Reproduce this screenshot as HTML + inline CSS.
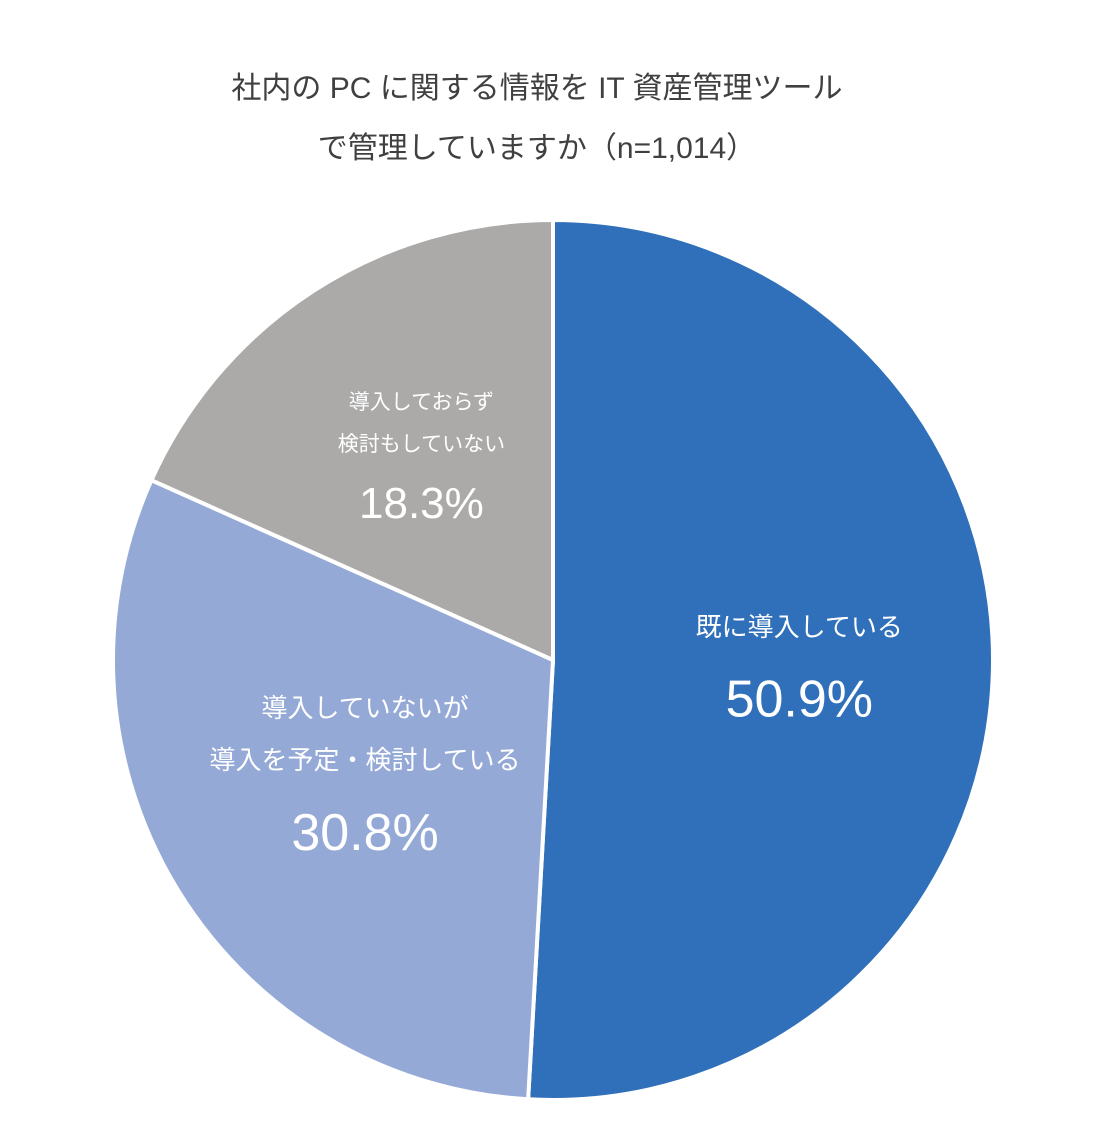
<!DOCTYPE html>
<html><head><meta charset="utf-8"><style>
html,body{margin:0;padding:0;background:#fff;}
body{width:1108px;height:1130px;overflow:hidden;font-family:"Liberation Sans","Noto Sans CJK JP",sans-serif;}
</style></head><body>
<svg id="chart" width="1108" height="1130" xmlns="http://www.w3.org/2000/svg">
<text x="537" y="98" text-anchor="middle" font-size="30" fill="#404040" font-family="Liberation Sans, Noto Sans CJK JP, sans-serif">社内の PC に関する情報を IT 資産管理ツール</text>
<text x="537" y="158" text-anchor="middle" font-size="30" fill="#404040" font-family="Liberation Sans, Noto Sans CJK JP, sans-serif">で管理していますか（n=1,014）</text>
<g id="slices"></g><g id="labels"></g>
</svg>
<script>
const categories = ["既に導入している", "導入していないが|導入を予定・検討している", "導入しておらず|検討もしていない"];
const values = [50.9, 30.8, 18.3];
const valueLabels = ["50.9%", "30.8%", "18.3%"];
const colors = ["#3070BA", "#95A9D7", "#ABAAA9"];
const cx = 553, cy = 660, r = 440;
const ns = "http://www.w3.org/2000/svg";
const total = values.reduce((a, b) => a + b, 0);
const sg = document.getElementById('slices'), lg = document.getElementById('labels');
function pt(a, rr) { return [cx + rr * Math.sin(a), cy - rr * Math.cos(a)]; }
const labelR = [0.56, 0.5, 0.55];
const catSize = [26, 26, 21], valSize = [52, 52, 44];
let acc = 0;
values.forEach((v, i) => {
  const a0 = acc / total * 2 * Math.PI; acc += v;
  const a1 = acc / total * 2 * Math.PI;
  const p0 = pt(a0, r), p1 = pt(a1, r);
  const large = (a1 - a0) > Math.PI ? 1 : 0;
  const path = document.createElementNS(ns, 'path');
  path.setAttribute('d', `M${cx},${cy} L${p0[0]},${p0[1]} A${r},${r} 0 ${large} 1 ${p1[0]},${p1[1]} Z`);
  path.setAttribute('fill', colors[i]);
  path.setAttribute('stroke', '#fff');
  path.setAttribute('stroke-width', '4');
  
  
  sg.appendChild(path);
  const mid = (a0 + a1) / 2;
  const c = pt(mid, r * labelR[i]);
  const lines = categories[i].split('|');
  const gap = catSize[i] * 2.0;
  const blockH = (lines.length - 1) * gap + valSize[i] * 1.6;
  let y = c[1] - blockH / 2 + catSize[i] * 0.4;
  lines.forEach((ln, j) => {
    const t = document.createElementNS(ns, 'text');
    t.setAttribute('x', c[0]); t.setAttribute('y', y);
    t.setAttribute('text-anchor', 'middle');
    t.setAttribute('font-size', catSize[i]);
    t.setAttribute('fill', '#fff');
    
    
    t.textContent = ln; lg.appendChild(t);
    y += gap;
  });
  y += valSize[i] * 0.85 - gap + catSize[i] * 1.4;
  const tv = document.createElementNS(ns, 'text');
  tv.setAttribute('x', c[0]); tv.setAttribute('y', y);
  tv.setAttribute('text-anchor', 'middle');
  tv.setAttribute('font-size', valSize[i]);
  tv.setAttribute('fill', '#fff');
  
  
  tv.textContent = valueLabels[i]; lg.appendChild(tv);
});
</script>
</body></html>
